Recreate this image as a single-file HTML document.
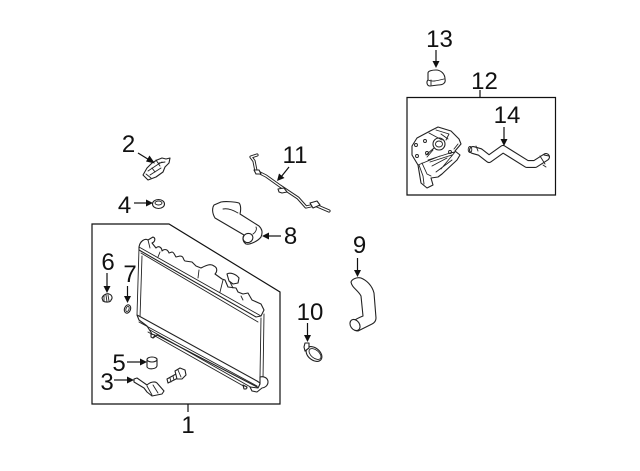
<!DOCTYPE html>
<html><head><meta charset="utf-8"><style>
html,body{margin:0;padding:0;background:#fff}
svg{display:block}
text{font-family:"Liberation Sans",sans-serif;font-size:24px;fill:#111;text-anchor:middle}
.l{fill:none;stroke:#111;stroke-width:1.3;stroke-linejoin:round;stroke-linecap:round}
.t{fill:none;stroke:#222;stroke-width:.9;stroke-linejoin:round;stroke-linecap:round}
.w{fill:#fff;stroke:#222;stroke-width:1.1;stroke-linejoin:round}
.a{fill:none;stroke:#111;stroke-width:1.2}
.h{fill:#111;stroke:none}
.to{fill:none;stroke:#222;stroke-linejoin:round;stroke-linecap:round}
.ti{fill:none;stroke:#fff;stroke-linejoin:round;stroke-linecap:round}
</style></head><body>
<svg width="640" height="471" viewBox="0 0 640 471" xmlns="http://www.w3.org/2000/svg">
<!-- boxes -->
<path class="a" d="M92 224H169L280 292V404H92Z"/>
<path class="a" d="M188 404V412"/>
<path class="a" d="M407 97.500H555.500V195H407Z"/>
<path class="a" d="M480 90V97"/>

<!-- radiator -->
<path class="t" d="M139 248L137 315M142 256L140 318M261 318L260 377M264 314L263 379"/>
<path class="w" d="M139 247C140 241 145 238 148 240L153 237C156 238 155 242 152 243L156 248C159 245 162 248 162 251C165 248 168 250 169 253L172 252C174 252 175 256 176 257L180 256C184 256 183 260 185 261L192 262L196 266L201 268C205 266 210 263 214 266C218 268 217 272 215 274L222 279L225 280L228 287L236 288L238 292L243 294L248 293L252 300L261 304L264 310L261 316L256 317L139 250Z"/>
<path class="w" d="M227 274C230 272 236 274 239 278L238 283L233 284L229 281Z"/>
<path class="t" d="M141 253L258 322M139 247L261 316M199 270L198 278M223 280L220 292M148 240L150 248M160 252L158 257"/>
<path class="t" d="M230 282L233 288M241 296L243 300"/>
<path class="w" d="M137 315L139 320L147 326L152 334L153 338L157 335L259 388L260 383L257 381L139 316Z"/>
<path class="t" d="M139 322L257 386M150 330L254 389M148 332L247 388"/>
<path class="w" d="M151 334L151 337L153 338L155 335ZM243 385L244 389L246 389L247 387Z"/>
<path class="w" d="M260 377C264 376 268 378 268 382C268 386 264 388 262 388L257 392L252 391L250 387L258 388L260 384Z"/>

<!-- bolt -->
<path class="w" d="M167 379L176 374L178 378L168 383Z"/>
<path class="w" d="M175 371L180 368L185 370L186 375L182 379L177 379Z"/>
<path class="t" d="M170 378L171 382M173 376L174 380M178 370L181 377"/>
<!-- 5 plug -->
<path class="w" d="M147 360C149 357 155 357 157 359L157 366C156 369 149 370 147 367Z"/>
<ellipse class="w" cx="152" cy="359.500" rx="5" ry="2.500"/>
<!-- 3 bracket -->
<path class="w" d="M134 379L137 378L147 385C150 382 155 381 157 383L164 391L162 394L152 396L147 392L144 388L134 382Z"/>
<path class="t" d="M147 386L152 395M153 385L158 393"/>
<!-- 6 clip -->
<path class="w" d="M102 298C103 295 107 293 109 294C112 295 113 298 111 300C111 302 106 303 103 301Z"/>
<path class="t" d="M104 296L104 301M106 295L107 302M108 295L109 301"/>
<!-- 7 ring -->
<ellipse class="w" cx="127.500" cy="309" rx="3" ry="4.300" transform="rotate(20 127.500 309)"/>
<ellipse class="t" cx="127.500" cy="309" rx="1.500" ry="2.600" transform="rotate(20 127.500 309)"/>

<!-- 2 sensor -->
<path class="w" d="M143 175L147 168L152 163L157 160L162 158L166 159L170 158L169 163L165 167L163 172L156 177L148 180Z"/>
<path class="t" d="M148 171L157 165L162 162M150 175L161 168M156 160L160 166M146 174L151 178M159 163L165 162M152 168L155 172"/>
<!-- 4 grommet -->
<ellipse class="w" cx="158.500" cy="204" rx="6" ry="4.500"/>
<ellipse class="t" cx="158.500" cy="203" rx="3.500" ry="2"/>

<!-- 8 hose -->
<path class="w" d="M221 202C226 201 236 202 239 203C241 205 241 210 240 214L259 226C262 229 263 232 261 237C258 241 250 245 246 244C243 242 242 238 244 235L215 218C212 213 212 208 214 205Z"/>
<ellipse class="w" cx="248" cy="238" rx="5" ry="4.500" transform="rotate(-25 248 238)"/>
<path class="t" d="M223 209C228 208 233 210 238 213"/>
<path class="t" d="M253 234C256 232 257 229 256 227"/>

<!-- 11 line -->
<path class="to" stroke-width="3.200" d="M257 155L251 157L254 161L256 171L266 176L280 186L298 198L306 207L315 205L329 211"/>
<path class="ti" stroke-width="1.300" d="M257 155L251 157L254 161L256 171L266 176L280 186L298 198L306 207L315 205L329 211"/>
<path class="w" d="M278 189L284 188L287 192L282 193L279 192Z"/>
<path class="w" d="M254 170L259 170L261 174L256 174Z"/>
<path class="w" d="M310 203L317 201L320 205L313 208Z"/>

<!-- 9 hose -->
<path class="w" d="M351 282C352 279 357 277 361 278C366 280 372 285 374 293L376 318C376 321 374 323 372 324L358 331C354 331 350 327 351 324C352 321 358 318 363 316L361 296C358 290 352 288 351 282Z"/>
<ellipse class="w" cx="355" cy="325" rx="4.500" ry="6" transform="rotate(-35 355 325)"/>

<!-- 10 clamp -->
<ellipse class="w" cx="314" cy="354" rx="6" ry="9" transform="rotate(-50 314 354)"/>
<ellipse class="t" cx="315" cy="354" rx="4" ry="7" transform="rotate(-50 315 354)"/>
<path class="w" d="M305 343L309 343L309 348L305 351L304 347Z"/>

<!-- 13 cap -->
<path class="w" d="M428 73C428 71 432 70 436 70C441 70 445 74 445 79C446 83 443 85 438 85L430 86C427 86 426 82 428 80Z"/>
<path class="t" d="M428 80C432 82 436 81 444 79M431 80L431 85"/>

<!-- 12 housing -->
<path class="w" d="M412 146L417 138L432 130L438 127L451 131L459 139L461 144L455 151L460 155L457 160L442 174L438 177L431 178L433 185L427 188L421 183L418 165L412 155Z"/>
<circle class="w" cx="439" cy="144" r="6"/>
<ellipse class="t" cx="439" cy="144" rx="3.500" ry="3"/>
<path class="t" d="M434 148L426 155M433 150L427 157M436 130L449 134L446 140M441 134L448 139M428 160L450 153L455 152L441 169M430 162L452 155M422 163L427 174L431 176M419 165L423 176L424 184M429 133L442 140M458 144L454 149M418 165L440 156M432 166L447 158M436 172L452 160"/>
<circle class="t" cx="416" cy="145" r="1.500"/><circle class="t" cx="417" cy="156" r="1.500"/><circle class="t" cx="450" cy="152" r="1.500"/><circle class="t" cx="427" cy="153" r="1.500"/><circle class="t" cx="425" cy="141" r="1.500"/>

<!-- 14 pipe -->
<path class="to" stroke-width="8" d="M473 150L480 152L489 159L503 149L527 164L535 164L546 157"/>
<path class="ti" stroke-width="5.800" d="M473 150L480 152L489 159L503 149L527 164L535 164L546 157"/>
<ellipse class="t" cx="470" cy="149.500" rx="1.800" ry="3"/>
<path class="t" d="M476 146L478 151M540 156L545 164"/>
<path class="t" d="M544 155L549 156M543 165L546 167"/>

<!-- arrows -->
<g>
<path class="a" d="M138 153L151 161"/><path class="h" d="M155 163.500L146 161.500L149.500 155.500Z"/>
<path class="a" d="M134 203H148"/><path class="h" d="M153 203L146 199.500V206.500Z"/>
<path class="a" d="M114 380H129"/><path class="h" d="M134 380L127 376.500V383.500Z"/>
<path class="a" d="M127 362H142"/><path class="h" d="M147 362L140 358.500V365.500Z"/>
<path class="a" d="M107 273V288"/><path class="h" d="M107 293L103.500 286H110.500Z"/>
<path class="a" d="M127.500 286V298"/><path class="h" d="M127.500 303L124 296H131Z"/>
<path class="a" d="M281 236H267"/><path class="h" d="M262 236L269 232.500V239.500Z"/>
<path class="a" d="M357.500 258V272"/><path class="h" d="M357.500 277L354 270H361Z"/>
<path class="a" d="M307.500 323V337"/><path class="h" d="M307.500 342L304 335H311Z"/>
<path class="a" d="M289 167L281 177"/><path class="h" d="M277 181L279 173.500L284.500 178Z"/>
<path class="a" d="M436 50V63"/><path class="h" d="M436 68L432.500 61H439.500Z"/>
<path class="a" d="M504 127V141"/><path class="h" d="M504 146L500.500 139H507.500Z"/>
</g>

<!-- labels -->
<text x="188" y="433">1</text>
<text x="128.500" y="152">2</text>
<text x="107" y="390">3</text>
<text x="124.500" y="213">4</text>
<text x="119" y="371">5</text>
<text x="108" y="270">6</text>
<text x="130" y="282">7</text>
<text x="290.500" y="244">8</text>
<text x="359.500" y="253">9</text>
<text x="310" y="320">10</text>
<text x="295" y="163">11</text>
<text x="484.500" y="89">12</text>
<text x="439.500" y="47">13</text>
<text x="507" y="123">14</text>
</svg>
</body></html>
